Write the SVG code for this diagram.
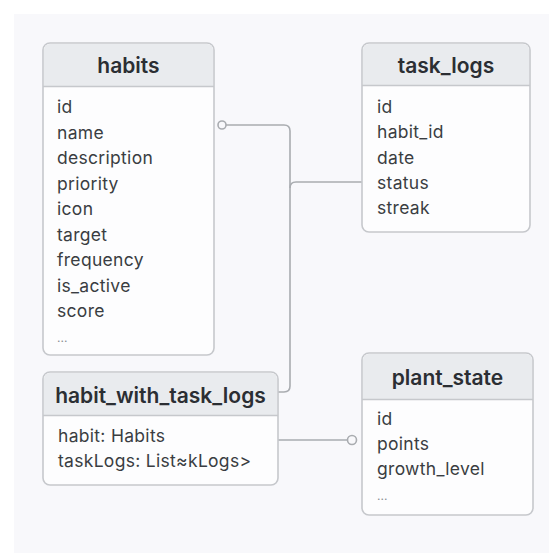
<svg xmlns="http://www.w3.org/2000/svg" width="549" height="553" viewBox="0 0 549 553">
<style>
.box{fill:#fdfdfe;stroke:#c6c8cc;stroke-width:1.6}
.hdr{fill:#e9ebee}
.sep{stroke:#c6c8cc;stroke-width:1.6}
.title{font-family:Inter,"Liberation Sans",sans-serif;font-size:21px;font-weight:600;fill:#2b2e33;text-anchor:middle}
.fld{font-family:Inter,"Liberation Sans",sans-serif;font-size:17.5px;letter-spacing:0.3px;fill:#3a3d42}
.dots{font-family:Inter,"Liberation Sans",sans-serif;font-size:12px;fill:#8a8d92}
.conn{fill:none;stroke:#a9acb0;stroke-width:1.6}
.end{fill:#f8f8fb;stroke:#a9acb0;stroke-width:1.6}
</style>
<rect width="549" height="553" fill="#ffffff"/>
<rect x="14" y="14" width="535" height="539" fill="#f8f8fb"/>
<g id="connectors">
<path class="conn" d="M226,125 H284 Q290,125 290,131 V386 Q290,392 284,392 H278"/>
<path class="conn" d="M362,182 H296 Q290,182 290,188"/>
<path class="conn" d="M278,440 H347.5"/>
<circle class="end" cx="222" cy="125" r="4"/>
<circle class="end" cx="352" cy="440" r="4.5"/>
</g>
<g id="habits">
<rect class="box" x="43" y="43" width="171" height="312" rx="7"/>
<path class="hdr" d="M44,86 V50 Q44,44 50,44 H207 Q213,44 213,50 V86 Z"/>
<line class="sep" x1="43" y1="86.5" x2="214" y2="86.5"/>
<text class="title" x="128.5" y="73">habits</text>
<text class="fld" x="57" y="113">id</text>
<text class="fld" x="57" y="138.5">name</text>
<text class="fld" x="57" y="164">description</text>
<text class="fld" x="57" y="189.5">priority</text>
<text class="fld" x="57" y="215">icon</text>
<text class="fld" x="57" y="240.5">target</text>
<text class="fld" x="57" y="266">frequency</text>
<text class="fld" x="57" y="291.5">is_active</text>
<text class="fld" x="57" y="317">score</text>
<text class="dots" x="57" y="342">...</text>
</g>
<g id="task_logs">
<rect class="box" x="362" y="43" width="168" height="189" rx="7"/>
<path class="hdr" d="M363,85 V50 Q363,44 369,44 H523 Q529,44 529,50 V85 Z"/>
<line class="sep" x1="362" y1="85.5" x2="530" y2="85.5"/>
<text class="title" x="446" y="73">task_logs</text>
<text class="fld" x="377" y="113">id</text>
<text class="fld" x="377" y="138.3">habit_id</text>
<text class="fld" x="377" y="163.6">date</text>
<text class="fld" x="377" y="188.9">status</text>
<text class="fld" x="377" y="214.2">streak</text>
</g>
<g id="habit_with_task_logs">
<rect class="box" x="43" y="372" width="235" height="113" rx="7"/>
<path class="hdr" d="M44,415 V379 Q44,373 50,373 H271 Q277,373 277,379 V415 Z"/>
<line class="sep" x1="43" y1="415.5" x2="278" y2="415.5"/>
<text class="title" x="160.5" y="403">habit_with_task_logs</text>
<text class="fld" x="58" y="442">habit: Habits</text>
<text class="fld" x="58" y="467">taskLogs: List≈kLogs&gt;</text>
</g>
<g id="plant_state">
<rect class="box" x="362" y="353" width="171" height="162" rx="7"/>
<path class="hdr" d="M363,399 V360 Q363,354 369,354 H526 Q532,354 532,360 V399 Z"/>
<line class="sep" x1="362" y1="399.5" x2="533" y2="399.5"/>
<text class="title" x="447.5" y="385">plant_state</text>
<text class="fld" x="377" y="425">id</text>
<text class="fld" x="377" y="450">points</text>
<text class="fld" x="377" y="475">growth_level</text>
<text class="dots" x="377" y="500">...</text>
</g>
</svg>
